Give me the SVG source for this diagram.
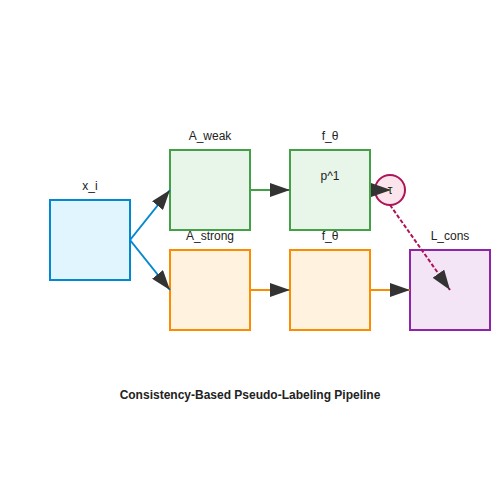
<svg xmlns="http://www.w3.org/2000/svg" width="500" height="500" viewBox="0 0 500 500">
<style>
text{font-family:"Liberation Sans",Arial,sans-serif;font-size:12px;fill:#222;text-anchor:middle}
.title{font-weight:bold}
.box{stroke-width:2}
.ln{fill:none;stroke-width:2}
</style>
<defs>
<marker id="ah" markerUnits="userSpaceOnUse" markerWidth="20" markerHeight="14" refX="20" refY="7" orient="auto">
<path d="M0,0 L20,7 L0,14 z" fill="#333"/>
</marker>
</defs>
<rect width="500" height="500" fill="#fff"/>
<g id="x_i">
<rect class="box" x="50" y="200" width="80" height="80" fill="#e1f5fe" stroke="#0288d1"/>
<text x="90" y="190">x_i</text>
</g>
<g id="A_weak">
<rect class="box" x="170" y="150" width="80" height="80" fill="#e8f5e9" stroke="#43a047"/>
<text x="210" y="140">A_weak</text>
</g>
<g id="A_strong">
<rect class="box" x="170" y="250" width="80" height="80" fill="#fff3e0" stroke="#fb8c00"/>
<text x="210" y="240">A_strong</text>
</g>
<g id="f_theta_weak">
<rect class="box" x="290" y="150" width="80" height="80" fill="#e8f5e9" stroke="#43a047"/>
<text x="330" y="140">f_θ</text>
<text x="330" y="180">p^1</text>
</g>
<g id="f_theta_strong">
<rect class="box" x="290" y="250" width="80" height="80" fill="#fff3e0" stroke="#fb8c00"/>
<text x="330" y="240">f_θ</text>
</g>
<g id="L_cons">
<rect class="box" x="410" y="250" width="80" height="80" fill="#f3e5f5" stroke="#8e24aa"/>
<text x="450" y="240">L_cons</text>
</g>
<g id="tau">
<circle cx="390" cy="190" r="15" fill="#fce4ec" stroke="#ad1457" stroke-width="2"/>
<text x="390" y="194">τ</text>
</g>
<g id="connectors">
<line class="ln" x1="130" y1="240" x2="170" y2="190" stroke="#0288d1" marker-end="url(#ah)"/>
<line class="ln" x1="130" y1="240" x2="170" y2="290" stroke="#0288d1" marker-end="url(#ah)"/>
<line class="ln" x1="250" y1="190" x2="290" y2="190" stroke="#43a047" marker-end="url(#ah)"/>
<line class="ln" x1="250" y1="290" x2="290" y2="290" stroke="#fb8c00" marker-end="url(#ah)"/>
<line class="ln" x1="370" y1="190" x2="391" y2="190" stroke="#43a047" marker-end="url(#ah)"/>
<line class="ln" x1="370" y1="290" x2="410" y2="290" stroke="#fb8c00" marker-end="url(#ah)"/>
<line class="ln" x1="390" y1="205" x2="450" y2="290" stroke="#ad1457" stroke-dasharray="4,2" marker-end="url(#ah)"/>
</g>
<text class="title" x="250" y="399">Consistency-Based Pseudo-Labeling Pipeline</text>
</svg>
